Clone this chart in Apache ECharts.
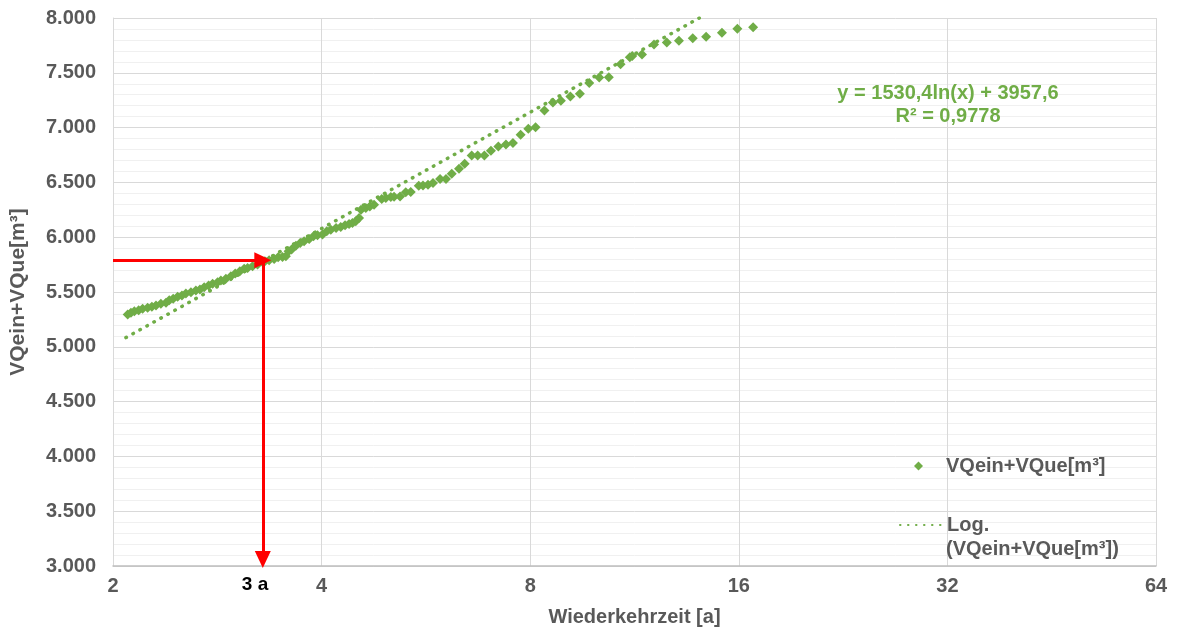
<!DOCTYPE html>
<html>
<head>
<meta charset="utf-8">
<script src="https://cdn.jsdelivr.net/npm/echarts@6/dist/echarts.min.js"></script>
<style>
  html, body { margin: 0; padding: 0; background: #ffffff; }
  #chart { width: 1178px; height: 632px; }
</style>
</head>
<body>
<div id="chart"></div>
<script>
// Return periods [a] of the ranked events
const returnPeriods = [2.100,2.123,2.147,2.178,2.207,2.244,2.276,2.307,2.345,2.385,2.411,2.443,2.479,2.515,2.548,2.591,2.634,2.670,2.708,2.748,2.785,2.831,2.862,2.910,2.959,3.002,3.049,3.093,3.128,3.180,3.233,3.288,3.313,3.360,3.416,3.462,3.513,3.552,3.584,3.620,3.672,3.725,3.774,3.838,3.894,3.946,4.012,4.069,4.124,4.197,4.263,4.324,4.382,4.432,4.481,4.530,4.560,4.633,4.695,4.762,4.885,4.951,5.034,5.089,5.191,5.291,5.379,5.524,5.603,5.697,5.792,5.929,6.048,6.164,6.315,6.435,6.586,6.719,6.870,7.022,7.197,7.381,7.554,7.750,7.950,8.144,8.387,8.627,8.859,9.143,9.436,9.735,10.063,10.389,10.802,11.140,11.229,11.600,12.071,12.595,13.115,13.729,14.355,15.128,15.926,16.779];
// Volumes VQein+VQue [m³]
const volumes = [5295,5310,5325,5334,5347,5356,5365,5377,5392,5401,5425,5438,5456,5468,5486,5498,5514,5523,5544,5559,5575,5589,5605,5620,5644,5668,5689,5711,5720,5735,5750,5771,5780,5789,5802,5817,5820,5826,5871,5887,5923,5948,5962,5984,6008,6017,6024,6054,6069,6085,6094,6108,6121,6130,6145,6176,6250,6267,6281,6297,6349,6358,6366,6370,6372,6409,6412,6470,6472,6479,6494,6531,6531,6579,6625,6670,6746,6746,6746,6789,6828,6846,6859,6934,6989,7004,7155,7228,7246,7283,7308,7408,7458,7460,7578,7642,7654,7667,7758,7777,7792,7815,7829,7866,7902,7915];
// Logarithmic trendline endpoints (straight on a log x axis), clipped at the top of the plot
const trendX = [2.088, 14.03];
const trendY = [5084, 8000];
// Red reading arrow: 3 a -> ~5.790 m³
const readX = 3.29;
const readY = 5790;
const xTicks = [2, 4, 8, 16, 32, 64];
const equationText = ['y = 1530,4ln(x) + 3957,6', 'R² = 0,9778'];
const seriesName = 'VQein+VQue[m³]';
const trendName = 'Log. (VQein+VQue[m³])';

const GREEN = '#70AD47';
const GREY = '#595959';
const FONT = "'Liberation Sans', Arial, sans-serif";

const scatterData = returnPeriods.map((x, i) => [x, volumes[i]]);
const trendData = trendX.map((x, i) => [x, trendY[i]]);

const legendText = { color: GREY, fontSize: 20, fontWeight: 'bold', fontFamily: FONT };

const chart = echarts.init(document.getElementById('chart'), null, { renderer: 'canvas' });
chart.setOption({
  animation: false,
  backgroundColor: '#ffffff',
  textStyle: { fontFamily: FONT },
  grid: { left: 112, right: 22, top: 18, bottom: 65, containLabel: false },
  xAxis: {
    type: 'log', logBase: 2, min: xTicks[0], max: xTicks[xTicks.length - 1],
    name: 'Wiederkehrzeit [a]', nameLocation: 'middle', nameGap: 41,
    nameTextStyle: { color: GREY, fontSize: 20, fontWeight: 'bold', fontFamily: FONT },
    axisLine: { show: true, lineStyle: { color: '#BFBFBF', width: 1.5 } },
    axisTick: { show: false },
    axisLabel: { color: GREY, fontSize: 20, fontWeight: 'bold', fontFamily: FONT, margin: 10 },
    splitLine: { show: true, lineStyle: { color: '#D9D9D9', width: 1 } },
    minorTick: { show: false }, minorSplitLine: { show: false }
  },
  yAxis: {
    type: 'value', min: 3000, max: 8000, interval: 500,
    name: 'VQein+VQue[m³]', nameLocation: 'middle', nameGap: 84, nameRotate: 90,
    nameTextStyle: { color: GREY, fontSize: 21, fontWeight: 'bold', fontFamily: FONT },
    axisLine: { show: true, lineStyle: { color: '#D9D9D9', width: 1 } },
    axisTick: { show: false },
    axisLabel: { color: GREY, fontSize: 20, fontWeight: 'bold', fontFamily: FONT, margin: 17,
      formatter: v => (v / 1000).toFixed(3) },
    splitLine: { show: true, lineStyle: { color: '#D9D9D9', width: 1 } },
    minorTick: { show: false, splitNumber: 5 },
    minorSplitLine: { show: true, lineStyle: { color: '#F0F0F0', width: 1 } }
  },
  legend: [
    {
      orient: 'vertical', left: 909, top: 451, itemWidth: 9, itemHeight: 9,
      textStyle: Object.assign({ padding: [0, 0, 0, 18] }, legendText),
      data: [{ name: seriesName, icon: 'diamond', itemStyle: { opacity: 1 } }]
    },
    {
      orient: 'vertical', left: 894, top: 510, itemWidth: 42, itemHeight: 8,
      textStyle: legendText,
      formatter: () => 'Log.',
      itemStyle: { opacity: 0 },
      data: [{ name: trendName, itemStyle: { opacity: 0, color: 'rgba(0,0,0,0)' } }]
    }
  ],
  series: [
    {
      name: trendName, type: 'line', data: trendData, symbol: 'none', showSymbol: false,
      z: 2, silent: true,
      lineStyle: { color: GREEN, width: 3.5, type: [0.5, 7.5], cap: 'round' },
      itemStyle: { color: GREEN }
    },
    {
      name: seriesName, type: 'scatter', data: scatterData, symbol: 'diamond', symbolSize: 10,
      z: 3,
      itemStyle: { color: GREEN, opacity: 1 }
    },
    {
      name: 'arrows', type: 'line', data: [], z: 5, silent: true,
      markLine: {
        silent: true, animation: false, z: 10,
        symbol: ['none', 'triangle'], symbolSize: [16, 17],
        label: { show: false },
        lineStyle: { color: '#FF0000', width: 3, type: 'solid' },
        data: [
          [{ coord: [xTicks[0], readY] }, { coord: [readX, readY] }],
          [{ coord: [readX, readY] }, { coord: [readX, 3060] }]
        ]
      }
    }
  ],
  graphic: [
    { type: 'text', z: 20,
      style: { text: equationText.join('\n'), x: 948, y: 82, textAlign: 'center', fill: GREEN,
        font: "bold 20px 'Liberation Sans', Arial, sans-serif", lineHeight: 23 } },
    { type: 'text', z: 20,
      style: { text: '(VQein+VQue[m³])', x: 946, y: 539, fill: GREY,
        font: "bold 20px 'Liberation Sans', Arial, sans-serif" } },
    { type: 'text', z: 20,
      style: { text: '3 a', x: 255, y: 575, textAlign: 'center', fill: '#000000',
        font: "bold 19px 'Liberation Sans', Arial, sans-serif" } }
  ]
});
</script>
</body>
</html>
